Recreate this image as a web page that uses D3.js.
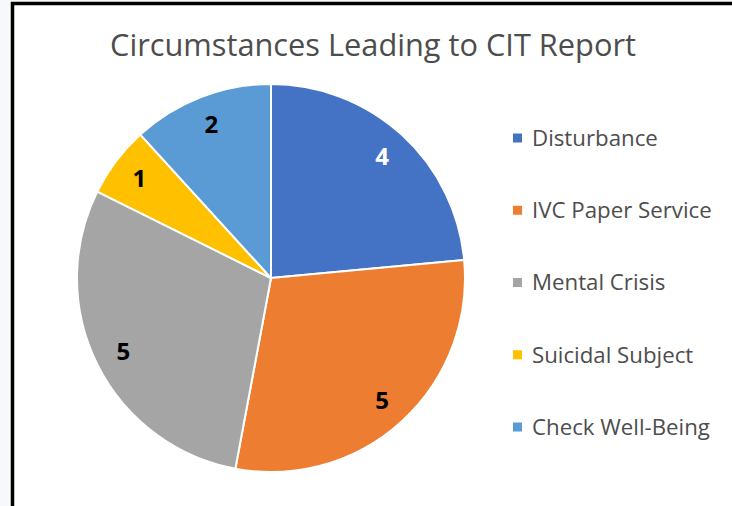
<!DOCTYPE html>
<html>
<head>
<meta charset="utf-8">
<script src="https://cdn.jsdelivr.net/npm/d3@7"></script>
<style>
html,body{margin:0;padding:0;background:#f6f8fc;overflow:hidden;}
svg{display:block;}
</style>
</head>
<body>
<svg id="chart" width="732" height="506"></svg>
<script>
const categories = ["Disturbance", "IVC Paper Service", "Mental Crisis", "Suicidal Subject", "Check Well-Being"];
const values = [4, 5, 5, 1, 2];
const colors = ["#4472C4", "#ED7D31", "#A5A5A5", "#FFC000", "#5B9BD5"];
const labelColors = ["#ffffff", "#000000", "#000000", "#000000", "#000000"];
const title = "Circumstances Leading to CIT Report";

const svg = d3.select("#chart");
const W = 732, H = 506;
const FONT = "'Open Sans', 'Noto Sans', sans-serif";

// chart area
svg.append("rect").attr("x", 12.5).attr("y", 3.5).attr("width", W + 10).attr("height", H + 10)
  .attr("fill", "#ffffff").attr("stroke", "#000000").attr("stroke-width", 3.5);

function fitText(sel, targetWidth, startSize) {
  let size = startSize;
  sel.attr("font-size", size);
  const w = sel.node().getComputedTextLength();
  size = size * targetWidth / w;
  sel.attr("font-size", size);
  return size;
}

// title
const t = svg.append("text").attr("x", 373).attr("y", 56)
  .attr("text-anchor", "middle").attr("font-family", FONT).attr("fill", "#4d4d4d").text(title);
fitText(t, 526, 28);

// pie
const cx = 271, cy = 278, r = 194;
const pie = d3.pie().sort(null).value(d => d)(values);
const arc = d3.arc().innerRadius(0).outerRadius(r);
const labelArc = d3.arc().innerRadius(r * 0.85).outerRadius(r * 0.85);
const g = svg.append("g").attr("transform", `translate(${cx},${cy})`);
g.selectAll("path").data(pie).join("path")
  .attr("d", arc).attr("fill", (d, i) => colors[i])
  .attr("stroke", "#ffffff").attr("stroke-width", 2).attr("stroke-linejoin", "round");
g.selectAll("text").data(pie).join("text")
  .attr("transform", d => `translate(${labelArc.centroid(d)})`)
  .attr("text-anchor", "middle").attr("dy", "0.36em")
  .attr("font-family", FONT).attr("font-weight", "bold").attr("font-size", 24)
  .attr("fill", (d, i) => labelColors[i]).text(d => d.data);

// legend
const ly = d3.scalePoint().domain(categories).range([138, 427]);
const lg = svg.append("g");
const items = lg.selectAll("g").data(categories).join("g")
  .attr("transform", d => `translate(0,${ly(d)})`);
items.append("rect").attr("x", 513).attr("y", -4.5).attr("width", 9).attr("height", 9)
  .attr("fill", (d, i) => colors[i]);
const lt = items.append("text").attr("x", 532).attr("y", 0).attr("dy", "0.35em")
  .attr("font-family", FONT).attr("fill", "#4d4d4d").attr("font-size", 19).text(d => d);
// size legend so that "Check Well-Being" spans ~178px
const probe = lt.filter((d, i) => i === 4);
const s = 19 * 178 / probe.node().getComputedTextLength();
lt.attr("font-size", s);
</script>
</body>
</html>
